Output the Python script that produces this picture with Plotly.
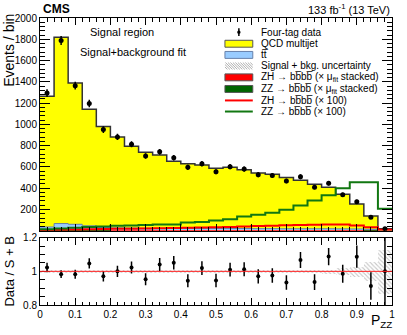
import numpy as np
import plotly.graph_objects as go
from plotly.subplots import make_subplots

# 25 bins of P_ZZ, width 0.04
bin_edges = [round(0.04 * i, 2) for i in range(26)]
bin_centers = [round(0.02 + 0.04 * i, 2) for i in range(25)]

# stacked fit components (events / bin)
qcd = [1229, 1752, 1327, 1095, 949, 854, 769, 714, 690, 631, 609, 597, 565,
       575, 552, 523, 512, 482, 457, 419, 391, 326, 235, 124, 12]
ttbar = [28, 60, 52, 38, 22, 18, 16, 14, 13, 12, 11, 10, 10,
         9, 9, 8, 8, 7, 7, 6, 6, 5, 4, 3, 1]
zh_fit = [6, 6, 7, 7, 7, 8, 8, 8, 8, 9, 9, 9, 9,
          9, 9, 9, 9, 9, 9, 9, 9, 9, 8, 6, 2]
zz_fit = [2, 2, 2, 2, 2, 2, 2, 2, 2, 2, 2, 2, 3,
          3, 3, 3, 3, 3, 3, 4, 4, 4, 5, 5, 3]

# signal templates scaled x100
zh_x100 = [8, 10, 12, 14, 16, 18, 20, 22, 24, 26, 28, 30, 32,
           36, 40, 44, 48, 52, 55, 57, 58, 58, 50, 32, 10]
zz_x100 = [14, 22, 28, 36, 40, 47, 50, 55, 58, 60, 78, 82, 97,
           108, 134, 150, 170, 197, 238, 284, 333, 400, 455, 455, 207]

# four-tag data
data = [1294, 1789, 1364, 1196, 951, 882, 813, 703, 742, 687, 596, 630, 555,
        602, 580, 527, 519, 468, 508, 410, 446, 339, 274, 126, 18]

# relative signal + bkg. uncertainty in the ratio panel
rel_unc = [0.008, 0.008, 0.008, 0.008, 0.008, 0.008, 0.008, 0.008, 0.008, 0.008,
           0.008, 0.008, 0.008, 0.008, 0.008, 0.008, 0.008, 0.008, 0.008, 0.010,
           0.012, 0.02, 0.03, 0.055, 0.13]

data = np.array(data, dtype=float)
total = np.array(qcd) + np.array(ttbar) + np.array(zh_fit) + np.array(zz_fit)
below_tt = np.array(zh_fit) + np.array(zz_fit)
tt_top = below_tt + np.array(ttbar)
ratio = data / total
ratio_err = np.sqrt(data) / total
rel_unc = np.array(rel_unc)

FONT = "Liberation Sans, Arial, Helvetica, sans-serif"
W, H = 407, 335
L, R, T, B = 40, 13, 15, 30


def px(x):
    return (x - L) / (W - L - R)


def py(y):
    return (H - B - y) / (H - T - B)


def step(vals):
    return bin_edges, list(vals) + [list(vals)[-1]]


fig = make_subplots(rows=2, cols=1, shared_xaxes=True)

# stacked histogram
for vals, col in [(zh_fit, "#ff0000"), (zz_fit, "#006400"),
                  (ttbar, "#99ccff"), (qcd, "#ffff00")]:
    fig.add_trace(go.Bar(x=bin_centers, y=vals, width=0.04,
                         marker=dict(color=col, line=dict(width=0))),
                  row=1, col=1)

sx, sy = step(tt_top)
fig.add_trace(go.Scatter(x=sx, y=sy, mode="lines", line_shape="hv",
                         line=dict(color="#6680aa", width=1)), row=1, col=1)
sx, sy = step(total)
fig.add_trace(go.Scatter(x=sx, y=sy, mode="lines", line_shape="hv",
                         line=dict(color="#333333", width=1.5)), row=1, col=1)
sx, sy = step(zh_x100)
fig.add_trace(go.Scatter(x=sx, y=sy, mode="lines", line_shape="hv",
                         line=dict(color="#ff0000", width=2)), row=1, col=1)
sx, sy = step(zz_x100)
fig.add_trace(go.Scatter(x=sx, y=sy, mode="lines", line_shape="hv",
                         line=dict(color="#117711", width=2)), row=1, col=1)

fig.add_trace(go.Scatter(x=bin_centers, y=data, mode="markers",
                         marker=dict(color="black", size=5),
                         error_y=dict(type="data", array=np.sqrt(data),
                                      color="black", thickness=1.5, width=0)),
              row=1, col=1)

# ratio panel: hatched uncertainty band
fig.add_trace(go.Bar(x=bin_centers, y=1 - rel_unc, width=0.04,
                     marker=dict(color="rgba(0,0,0,0)", line=dict(width=0))),
              row=2, col=1)
fig.add_trace(go.Bar(x=bin_centers, y=2 * rel_unc, width=0.04,
                     marker=dict(color="rgba(0,0,0,0)", line=dict(width=0),
                                 pattern=dict(shape="\\", fgcolor="#8c8c8c",
                                              size=3, solidity=0.35))),
              row=2, col=1)
fig.add_hline(y=1, line=dict(color="#ff2020", width=1), row=2, col=1)
fig.add_trace(go.Scatter(x=bin_centers, y=ratio, mode="markers",
                         marker=dict(color="black", size=4),
                         error_y=dict(type="data", array=ratio_err,
                                      color="black", thickness=1.5, width=0)),
              row=2, col=1)

axis_common = dict(showline=True, linecolor="black", linewidth=1,
                   mirror="allticks", ticks="inside", showgrid=False,
                   zeroline=False, tickcolor="black",
                   tickfont=dict(family=FONT, size=10, color="black"))

fig.update_xaxes(range=[0, 1], dtick=0.1, ticklen=7,
                 minor=dict(dtick=0.02, ticklen=3.5, ticks="inside",
                            tickcolor="black"),
                 **axis_common)
fig.update_xaxes(showticklabels=False, row=1, col=1)
fig.update_yaxes(range=[0, 2000], tickmode="array",
                 tickvals=list(range(200, 2001, 200)), ticklen=10,
                 minor=dict(tick0=0, dtick=40, ticklen=5, ticks="inside",
                            tickcolor="black"),
                 row=1, col=1, **axis_common)
fig.update_yaxes(range=[0.8, 1.2], tickmode="array",
                 tickvals=[0.8, 1.0, 1.2], ticktext=["0.8", "1", "1.2"],
                 ticklen=10,
                 minor=dict(tick0=0.8, dtick=0.05, ticklen=5, ticks="inside",
                            tickcolor="black"),
                 row=2, col=1, **axis_common)

fig.update_layout(
    width=W, height=H,
    margin=dict(l=L, r=R, t=T, b=B, pad=0),
    plot_bgcolor="white", paper_bgcolor="white",
    barmode="stack", bargap=0, showlegend=False,
    font=dict(family=FONT, color="black"),
    yaxis=dict(domain=[py(230), 1]),
    yaxis2=dict(domain=[0, py(237)]),
)

ann = []
ann.append(dict(x=px(41), y=py(6), text="<b>CMS</b>", xanchor="left",
                font=dict(size=12)))
ann.append(dict(x=px(394), y=py(6), text="133 fb<sup>-1</sup> (13 TeV)",
                xanchor="right", font=dict(size=11)))
ann.append(dict(x=px(122), y=py(29.5), text="Signal region", font=dict(size=11)))
ann.append(dict(x=px(134), y=py(49.5), text="Signal+background fit",
                font=dict(size=11)))
ann.append(dict(x=px(8), y=py(48), text="Events / bin", textangle=-90,
                font=dict(size=14)))
ann.append(dict(x=px(9), y=py(271), text="Data / S + B", textangle=-90,
                font=dict(size=13)))
ann.append(dict(x=px(396), y=py(321), text="P<sub>ZZ</sub>", xanchor="right",
                font=dict(size=14)))

# legend drawn by hand, ROOT style
leg_labels = [
    "Four-tag data",
    "QCD multijet",
    "t\u0074\u0305",
    "Signal + bkg. uncertainty",
    "ZH \u2192 bb\u0305bb\u0305 (\u00d7 \u03bc<sub>fit</sub> stacked)",
    "ZZ \u2192 bb\u0305bb\u0305 (\u00d7 \u03bc<sub>fit</sub> stacked)",
    "ZH \u2192 bb\u0305bb\u0305 (\u00d7 100)",
    "ZZ \u2192 bb\u0305bb\u0305 (\u00d7 100)",
]
leg_rows = [29.3, 41, 52.3, 63.5, 75, 86.7, 98.3, 109.5]
x0, x1 = 226, 254
shapes = []
for lab, yr in zip(leg_labels, leg_rows):
    ann.append(dict(x=px(260), y=py(yr), text=lab, xanchor="left",
                    font=dict(size=10)))

def box(yr, fill, line):
    return dict(type="rect", xref="paper", yref="paper",
                x0=px(x0), x1=px(x1), y0=py(yr - 3.5), y1=py(yr + 3.5),
                fillcolor=fill, line=dict(color=line, width=1))

# data marker
shapes.append(dict(type="line", xref="paper", yref="paper",
                   x0=px(240), x1=px(240), y0=py(leg_rows[0] - 4),
                   y1=py(leg_rows[0] + 4), line=dict(color="black", width=1.5)))
shapes.append(dict(type="circle", xref="paper", yref="paper",
                   x0=px(238.3), x1=px(241.7), y0=py(leg_rows[0] - 1.7),
                   y1=py(leg_rows[0] + 1.7), fillcolor="black",
                   line=dict(color="black", width=0)))
shapes.append(box(leg_rows[1], "#ffff00", "#555555"))
shapes.append(box(leg_rows[2], "#99ccff", "#6680aa"))
# hatched box
yr = leg_rows[3]
path = ""
k = x0 - 7
while k < x1:
    xa, ya = k, yr - 3.5
    xb, yb = k + 7, yr + 3.5
    if xa < x0:
        ya += x0 - xa
        xa = x0
    if xb > x1:
        yb -= xb - x1
        xb = x1
    path += f"M{px(xa)},{py(ya)} L{px(xb)},{py(yb)} "
    k += 2.5
shapes.append(dict(type="path", xref="paper", yref="paper", path=path,
                   line=dict(color="#999999", width=0.8)))
shapes.append(box(leg_rows[4], "#ff0000", "#555555"))
shapes.append(box(leg_rows[5], "#006400", "#555555"))
shapes.append(dict(type="line", xref="paper", yref="paper", x0=px(x0), x1=px(x1),
                   y0=py(leg_rows[6]), y1=py(leg_rows[6]),
                   line=dict(color="#ff0000", width=2)))
shapes.append(dict(type="line", xref="paper", yref="paper", x0=px(x0), x1=px(x1),
                   y0=py(leg_rows[7]), y1=py(leg_rows[7]),
                   line=dict(color="#117711", width=2)))

for a in ann:
    a.update(xref="paper", yref="paper", showarrow=False)
    a.setdefault("yanchor", "middle")
    a.setdefault("xanchor", "center")
fig.update_layout(annotations=ann)
for s in shapes:
    fig.add_shape(**s)

# the page's default body margin would shift the 407x335 figure
fig.write_html("out.html",
               config={"displayModeBar": False},
               post_script="document.body.style.margin='0';"
                           "document.body.style.overflow='hidden';")
